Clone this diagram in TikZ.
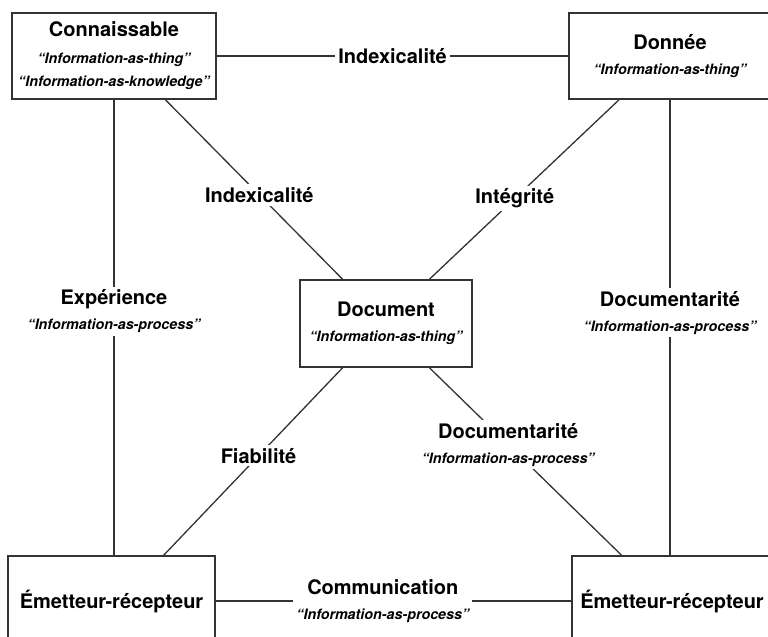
\documentclass[tikz,border=0pt]{standalone}
\usepackage{fontspec}
\setmainfont{TeX Gyre Heros}
\usetikzlibrary{calc}
\newcommand\lblfont{\fontsize{20bp}{25bp}\selectfont\bfseries}
\newcommand\subq[1]{{\fontsize{14.3bp}{25bp}\selectfont\bfseries\itshape “#1”}}
\begin{document}
\begin{tikzpicture}[x=1bp,y=-1bp,
  box/.style={draw=black!80, line width=1.3bp, fill=white, align=center, inner sep=0pt, font=\lblfont},
  lbl/.style={fill=white, align=center, inner sep=3bp, font=\lblfont},
  conn/.style={draw=black!80, line width=1.3bp}]
\clip (0,0) rectangle (768,637);
\fill[white] (0,0) rectangle (768,637);
% boxes
\node[box, minimum width=204bp, minimum height=86bp] (con) at (114,56)
  {Connaissable\\[2bp]\subq{Information-as-thing}\\[-2bp]\subq{Information-as-knowledge}};
\node[box, minimum width=202bp, minimum height=86bp] (don) at (670,56)
  {Donnée\\\subq{Information-as-thing}};
\node[box, minimum width=172bp, minimum height=87bp] (doc) at (386,323.5)
  {Document\\\subq{Information-as-thing}};
\node[box, minimum width=207bp, minimum height=90bp] (el) at (111.5,601)
  {Émetteur-récepteur};
\node[box, minimum width=200bp, minimum height=90bp] (er) at (672,601)
  {Émetteur-récepteur};
% connectors
\draw[conn] (con.east) -- node[lbl, pos=0.5] {Indexicalité} (don.west);
\draw[conn] (con.south) -- node[lbl, pos=0.464]
  {Expérience\\\subq{Information-as-process}} (con.south |- el.north);
\draw[conn] (don.south) -- node[lbl, pos=0.468]
  {Documentarité\\\subq{Information-as-process}} (don.south |- er.north);
\draw[conn] ($(con.south west)!0.75!(con.south east)$) -- node[lbl, pos=0.53]
  {Indexicalité} ($(doc.north west)!0.25!(doc.north east)$);
\draw[conn] ($(don.south west)!0.25!(don.south east)$) -- node[lbl, pos=0.55]
  {Intégrité} ($(doc.north west)!0.75!(doc.north east)$);
\draw[conn] ($(doc.south west)!0.25!(doc.south east)$) -- node[lbl, pos=0.47]
  {Fiabilité} ($(el.north west)!0.75!(el.north east)$);
\draw[conn] ($(doc.south west)!0.75!(doc.south east)$) -- node[lbl, pos=0.41]
  {Documentarité\\\subq{Information-as-process}} ($(er.north west)!0.25!(er.north east)$);
\draw[conn] (el.east) -- node[lbl, pos=0.47]
  {Communication\\\subq{Information-as-process}} (er.west);
\end{tikzpicture}
\end{document}
